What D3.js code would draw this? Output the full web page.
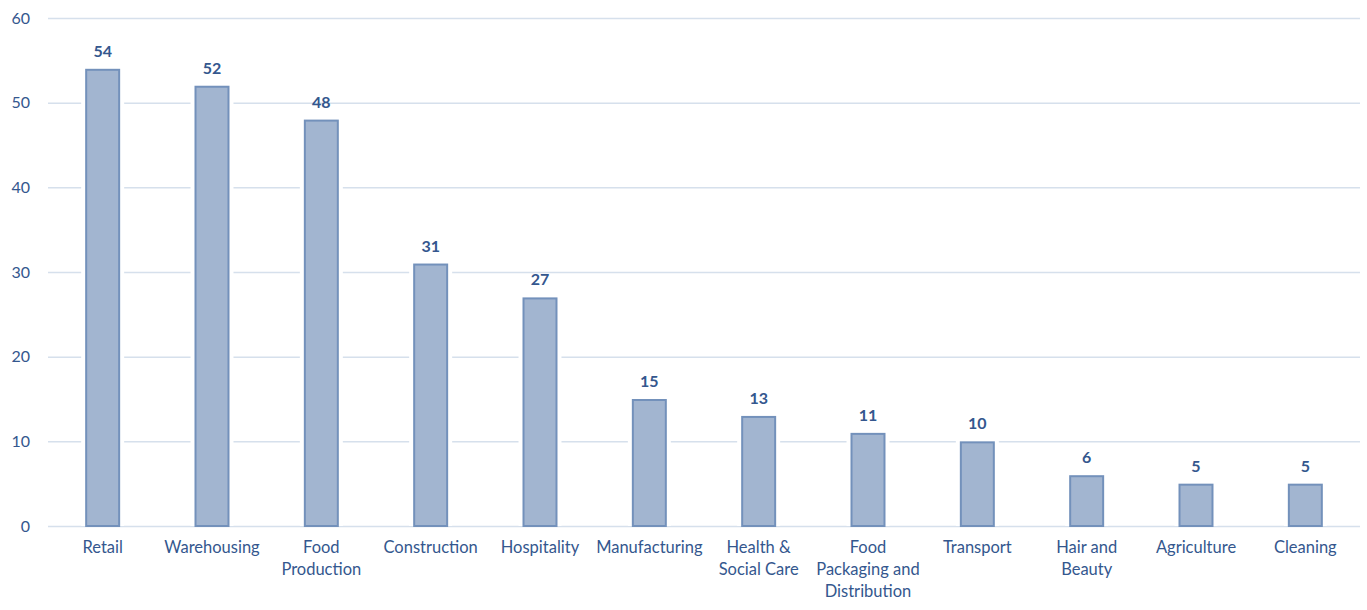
<!DOCTYPE html>
<html><head><meta charset="utf-8">
<script src="https://cdn.jsdelivr.net/npm/d3@7"></script>
<style>body{margin:0;background:#fff;} svg{display:block;}</style>
</head><body>
<svg id="c" width="1367" height="610"></svg>
<script>
const categories = [["Retail"],["Warehousing"],["Food","Production"],["Construction"],["Hospitality"],["Manufacturing"],["Health &","Social Care"],["Food","Packaging and","Distribution"],["Transport"],["Hair and","Beauty"],["Agriculture"],["Cleaning"]];
const values = [54,52,48,31,27,15,13,11,10,6,5,5];
const yTicks = [0,10,20,30,40,50,60];

const svg = d3.select("#c");
const font = "Lato, 'Open Sans', sans-serif";
const textColor = "#34578e";
const m = {left:48, right:1360, top:18, bottom:526};
const x = d3.scaleBand().domain(categories.map((d,i)=>i)).range([m.left, m.right]).paddingInner(0.68).paddingOuter(0.34);
const y = d3.scaleLinear().domain([0,60]).range([m.bottom, m.top]);

// gridlines
const yAxis = d3.axisLeft(y).tickValues(yTicks).tickSize(-(m.right-m.left)).tickPadding(18);
const gy = svg.append("g").attr("transform",`translate(${m.left},0)`).call(yAxis);
gy.select(".domain").remove();
gy.selectAll(".tick line").attr("stroke","#d6e0ec").attr("stroke-width",1.5);
gy.selectAll(".tick text").attr("fill",textColor).style("font-family",font).style("font-size","16px");

// bars with white halo
const g = svg.append("g");
g.selectAll("rect.halo").data(values).join("rect").attr("class","halo")
  .attr("x",(d,i)=>x(i)-4).attr("width",x.bandwidth()+8)
  .attr("y",d=>y(d)-3).attr("height",d=>y(0)-y(d)+3)
  .attr("fill","#fff");
g.selectAll("rect.bar").data(values).join("rect").attr("class","bar")
  .attr("x",(d,i)=>x(i)+1).attr("width",x.bandwidth()-2)
  .attr("y",d=>y(d)+1).attr("height",d=>y(0)-y(d)-1)
  .attr("fill","#a2b5d0").attr("stroke","#7391bb").attr("stroke-width",2);

// value labels
g.selectAll("text.val").data(values).join("text").attr("class","val")
  .attr("x",(d,i)=>x(i)+x.bandwidth()/2).attr("y",d=>y(d)-12)
  .attr("text-anchor","middle").attr("fill",textColor)
  .style("font-family",font).style("font-size","16px").style("font-weight","bold")
  .text(d=>d);

// x labels
const xl = svg.append("g");
categories.forEach((lines,i)=>{
  const t = xl.append("text").attr("x",x(i)+x.bandwidth()/2).attr("y",553)
    .attr("text-anchor","middle").attr("fill",textColor)
    .style("font-family",font).style("font-size","16.5px");
  lines.forEach((l,j)=>t.append("tspan").attr("x",x(i)+x.bandwidth()/2).attr("dy",j===0?0:22).text(l));
});
</script>
</body></html>
